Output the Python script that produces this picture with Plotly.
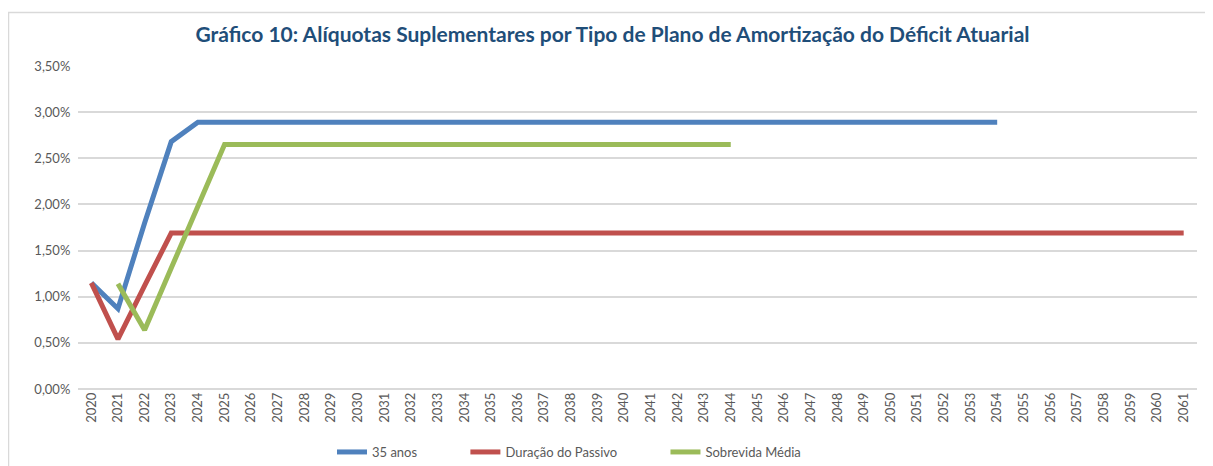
import plotly.graph_objects as go

years = [str(y) for y in range(2020, 2062)]

anos35 = [0.0115, 0.0087, 0.0180, 0.0268, 0.0289] + [0.0289] * (2054 - 2024)
duracao = [0.0115, 0.0054, 0.0112, 0.0169] + [0.0169] * (2061 - 2023)
sobrevida = [None, 0.0114, 0.0064, 0.0131, 0.0198, 0.0265] + [0.0265] * (2044 - 2025)

series = [
    ("35 anos", anos35, "#4F81BD"),
    ("Duração do Passivo", duracao, "#C0504D"),
    ("Sobrevida Média", sobrevida, "#9BBB59"),
]

# page body has an 8px margin; work in page coordinates and shift
OFF = 8
W, H = 1213 - OFF, 466 - OFF
L, R, T, B = 78 - OFF, 1197 - OFF, 66 - OFF, 389 - OFF

fig = go.Figure()
NB = "\u00a0"
for i, (name, vals, col) in enumerate(series):
    fig.add_trace(go.Scatter(
        x=years[:len(vals)], y=vals,
        name=name + (NB * 13 if i < len(series) - 1 else ""),
        mode="lines", line=dict(color=col, width=5), connectgaps=False,
    ))

pw, ph = R - L, B - T
def px(x):
    return (x - OFF - L) / pw
def py(y):
    return (B - (y - OFF)) / ph

fig.update_layout(
    width=W, height=H,
    margin=dict(l=L, r=W - R, t=T, b=H - B),
    paper_bgcolor="white", plot_bgcolor="white",
    separators=",.",
    font=dict(family="Lato, 'Open Sans', sans-serif", color="#595959"),
    title=dict(
        text="<b>Gráfico 10: Alíquotas Suplementares por Tipo de Plano de Amortização do Déficit Atuarial</b>",
        x=((197 + 1028) / 2 - OFF) / W, xanchor="center",
        y=1 - (35 - OFF) / H, yanchor="middle",
        font=dict(size=21, color="#1F4E79", family="Lato, 'Open Sans', sans-serif"),
    ),
    xaxis=dict(
        type="category", tickangle=-90, showgrid=False, showline=False,
        range=[-0.5, len(years) - 0.5], automargin=False,
        ticks="", tickfont=dict(size=13, color="#595959"),
    ),
    yaxis=dict(
        range=[0, 0.035], dtick=0.005, tickformat=".2%", automargin=False,
        showgrid=True, gridcolor="#D9D9D9", gridwidth=1.5,
        zeroline=True, zerolinecolor="#D9D9D9", zerolinewidth=1.5,
        showline=False, ticks="", tickfont=dict(size=13, color="#595959"),
        ticksuffix="  ",
    ),
    legend=dict(
        orientation="h", xref="container", x=(332 - OFF) / W, xanchor="left",
        yref="container", y=1 - (452 - OFF) / H, yanchor="middle",
        font=dict(size=13, color="#595959"), itemwidth=30, traceorder="normal",
        bgcolor="rgba(0,0,0,0)",
    ),
    showlegend=True,
    shapes=[dict(
        type="rect", xref="paper", yref="paper",
        x0=px(8.5), x1=px(1230), y0=py(12.5), y1=py(490),
        line=dict(color="#D9D9D9", width=1.5), layer="below",
    )],
)

fig.write_html("out.html")
